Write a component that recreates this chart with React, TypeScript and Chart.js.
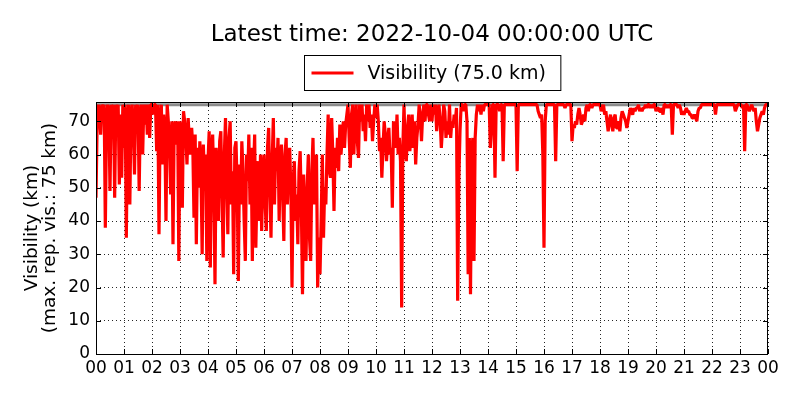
import { useEffect, useRef } from 'react';
import { Chart, registerables } from 'chart.js';

Chart.register(...registerables);

const titleText = 'Latest time: 2022-10-04 00:00:00 UTC';
const legendText = 'Visibility (75.0 km)';
const yTitle = ['Visibility (km)', '(max. rep. vis.: 75 km)'];
const hourLabels = [
  '00', '01', '02', '03', '04', '05', '06', '07', '08', '09', '10', '11',
  '12', '13', '14', '15', '16', '17', '18', '19', '20', '21', '22', '23', '00',
];
const yTicks = [0, 10, 20, 30, 40, 50, 60, 70];
const maxRepVis = 75;
const stepHours = 2.5 / 60; // one reading every 2.5 minutes

// visibility (km), 24 readings per hour
const vis00to06 = [
  47, 70, 75, 72, 66, 75, 74, 75, 38, 70, 75, 73, 49, 75, 72, 75, 47, 75, 70, 75, 51, 72, 53, 75, // 00
  62, 75, 35, 70, 75, 45, 72, 75, 68, 54, 75, 70, 75, 49, 72, 75, 60, 75, 69, 75, 66, 75, 65, 75, // 01
  75, 72, 75, 75, 61, 75, 36, 70, 75, 57, 72, 66, 40, 75, 70, 64, 48, 70, 33, 68, 70, 63, 70, 28, // 02
  70, 66, 44, 73, 70, 65, 57, 71, 64, 60, 68, 62, 41, 66, 33, 62, 50, 64, 55, 30, 63, 53, 60, 28, // 03
  58, 67, 26, 60, 66, 50, 21, 62, 55, 40, 64, 67, 48, 29, 60, 71, 52, 36, 65, 70, 45, 55, 24, 62, // 04
  64, 50, 22, 57, 45, 64, 55, 40, 28, 60, 52, 66, 45, 62, 28, 55, 66, 32, 50, 58, 40, 60, 37, 55, // 05
];
const vis06to12 = [
  60, 45, 37, 62, 68, 50, 35, 58, 71, 45, 62, 55, 65, 40, 58, 63, 48, 34, 60, 65, 45, 55, 62, 50, // 06
  20, 52, 58, 40, 48, 33, 55, 61, 45, 18, 54, 40, 28, 50, 60, 35, 28, 55, 65, 45, 50, 60, 20, 35, // 07
  24, 40, 60, 35, 50, 45, 60, 72, 55, 53, 71, 60, 43, 62, 56, 65, 55, 69, 60, 65, 70, 62, 69, 72, // 08
  75, 65, 56, 72, 75, 60, 70, 75, 64, 59, 75, 70, 75, 67, 72, 64, 75, 70, 75, 68, 72, 64, 70, 75, // 09
  71, 75, 70, 61, 65, 53, 62, 70, 66, 58, 64, 68, 60, 62, 44, 70, 66, 62, 72, 60, 65, 58, 14, 62, // 10
  75, 62, 58, 68, 72, 61, 66, 72, 62, 70, 57, 65, 69, 75, 71, 64, 72, 75, 70, 75, 75, 72, 70, 75, // 11
];
const vis12to18 = [
  70, 75, 72, 75, 67, 72, 75, 70, 62, 68, 75, 73, 65, 70, 66, 75, 65, 70, 68, 72, 70, 74, 16, 52, // 12
  67, 75, 75, 73, 75, 75, 70, 24, 65, 18, 60, 65, 28, 65, 72, 75, 73, 75, 72, 75, 73, 75, 75, 75, // 13
  75, 75, 62, 68, 75, 75, 53, 75, 75, 75, 73, 75, 75, 58, 75, 75, 75, 75, 75, 75, 75, 75, 75, 75, // 14
  75, 55, 75, 75, 75, 75, 75, 75, 75, 75, 75, 75, 75, 75, 75, 75, 75, 75, 75, 73, 72, 71, 72, 60, // 15
  32, 70, 75, 75, 75, 75, 75, 75, 75, 75, 58, 75, 75, 75, 75, 75, 75, 75, 74, 75, 75, 75, 75, 75, // 16
  64, 69, 68, 70, 69, 72, 74, 72, 69, 70, 72, 70, 74, 75, 73, 75, 75, 74, 75, 75, 75, 75, 75, 75, // 17
];
const vis18to24 = [
  75, 73, 74, 75, 72, 73, 70, 67, 70, 72, 69, 67, 71, 72, 68, 68, 70, 67, 71, 73, 72, 71, 70, 68, // 18
  70, 72, 74, 73, 72, 74, 73, 74, 74, 75, 73, 74, 73, 74, 74, 75, 74, 75, 75, 74, 75, 74, 75, 75, // 19
  73, 74, 74, 73, 73, 74, 72, 75, 75, 74, 75, 74, 75, 75, 66, 75, 75, 75, 75, 74, 75, 74, 72, 73, // 20
  72, 73, 74, 73, 73, 72, 72, 71, 71, 72, 71, 70, 73, 74, 74, 75, 75, 75, 75, 75, 75, 75, 75, 75, // 21
  75, 75, 75, 72, 75, 75, 75, 75, 75, 75, 75, 75, 75, 75, 75, 75, 75, 75, 75, 75, 73, 74, 75, 75, // 22
  75, 75, 74, 75, 61, 75, 75, 74, 73, 74, 75, 74, 73, 74, 70, 67, 69, 71, 72, 73, 72, 74, 75, 75, // 23
  75,
];

const visibility = [...vis00to06, ...vis06to12, ...vis12to18, ...vis18to24];

const FONT = "'DejaVu Sans', sans-serif";

// box, inward ticks on all four sides, title and legend (matplotlib look)
const decorPlugin = {
  id: 'decor',
  afterDatasetsDraw(chart: Chart) {
    const { ctx, chartArea } = chart;
    const { left, right, top, bottom } = chartArea;
    const xs = chart.scales.x;
    const ys = chart.scales.y;
    ctx.save();
    ctx.setLineDash([]);
    ctx.strokeStyle = '#000';
    ctx.lineWidth = 1;
    ctx.beginPath();
    xs.ticks.forEach((t) => {
      const px = Math.round(xs.getPixelForValue(t.value)) + 0.5;
      ctx.moveTo(px, bottom);
      ctx.lineTo(px, bottom - 5);
      ctx.moveTo(px, top);
      ctx.lineTo(px, top + 5);
    });
    ys.ticks.forEach((t) => {
      const py = Math.round(ys.getPixelForValue(t.value)) + 0.5;
      ctx.moveTo(left, py);
      ctx.lineTo(left + 5, py);
      ctx.moveTo(right, py);
      ctx.lineTo(right - 5, py);
    });
    ctx.stroke();
    ctx.strokeRect(left + 0.5, top + 0.5, right - left - 1, bottom - top);
    ctx.restore();
  },
  afterDraw(chart: Chart) {
    const { ctx, chartArea } = chart;
    const cx = (chartArea.left + chartArea.right) / 2;
    ctx.save();
    ctx.fillStyle = '#000';
    ctx.textAlign = 'center';
    ctx.textBaseline = 'middle';
    ctx.font = `23px ${FONT}`;
    ctx.fillText(titleText, cx, 35);

    // legend box
    ctx.font = `19px ${FONT}`;
    const textW = ctx.measureText(legendText).width;
    const boxW = 14 + 42 + 14 + textW + 8;
    const boxX = Math.round(cx - boxW / 2) + 0.5;
    const boxY = 55.5;
    const boxH = 35;
    ctx.fillStyle = '#fff';
    ctx.fillRect(boxX, boxY, boxW, boxH);
    ctx.strokeStyle = '#000';
    ctx.lineWidth = 1;
    ctx.strokeRect(boxX, boxY, boxW, boxH);
    ctx.strokeStyle = '#ff0000';
    ctx.lineWidth = 3;
    ctx.beginPath();
    ctx.moveTo(boxX + 7, boxY + boxH / 2);
    ctx.lineTo(boxX + 49, boxY + boxH / 2);
    ctx.stroke();
    ctx.fillStyle = '#000';
    ctx.textAlign = 'left';
    ctx.fillText(legendText, boxX + 63, boxY + boxH / 2 + 1);
    ctx.restore();
  },
};

const VisibilityChart = () => {
  const canvasRef = useRef<HTMLCanvasElement>(null);

  useEffect(() => {
    document.body.style.margin = '0';
    const ctx = canvasRef.current?.getContext('2d');
    if (!ctx) return;

    const chart = new Chart(ctx, {
      type: 'line',
      data: {
        datasets: [
          {
            label: legendText,
            data: visibility.map((v, i) => ({ x: i * stepHours, y: v })),
            borderColor: '#ff0000',
            borderWidth: 3.2,
            borderJoinStyle: 'bevel',
            pointRadius: 0,
            tension: 0,
            order: 0,
          },
          {
            label: 'max rep vis',
            data: [
              { x: 0, y: maxRepVis },
              { x: 24, y: maxRepVis },
            ],
            borderColor: '#8c8c8c',
            borderWidth: 3,
            pointRadius: 0,
            order: 1,
          },
        ],
      },
      options: {
        animation: false,
        responsive: true,
        maintainAspectRatio: false,
        layout: { padding: { top: 102, right: 32, left: 0, bottom: 0 } },
        plugins: {
          legend: { display: false },
          title: { display: false },
          tooltip: { enabled: false },
        },
        scales: {
          x: {
            type: 'linear',
            min: 0,
            max: 24,
            afterBuildTicks: (scale) => {
              scale.ticks = hourLabels.map((_, i) => ({ value: i }));
            },
            afterFit: (scale) => {
              scale.height = 46;
            },
            ticks: {
              autoSkip: false,
              maxRotation: 0,
              color: '#000',
              padding: 4,
              font: { family: FONT, size: 17 },
              callback: (_v, i) => hourLabels[i],
            },
            grid: { color: 'rgba(0,0,0,0.85)', lineWidth: 1, drawTicks: false },
            border: { display: false, dash: [1, 3] },
          },
          y: {
            min: 0,
            max: 75.8,
            afterBuildTicks: (scale) => {
              scale.ticks = yTicks.map((value) => ({ value }));
            },
            afterFit: (scale) => {
              scale.width = 96;
            },
            ticks: {
              color: '#000',
              padding: 6,
              font: { family: FONT, size: 17 },
              callback: (v) => String(v),
            },
            grid: { color: 'rgba(0,0,0,0.85)', lineWidth: 1, drawTicks: false },
            border: { display: false, dash: [1, 3] },
            title: {
              display: true,
              text: yTitle,
              color: '#000',
              font: { family: FONT, size: 18.5, lineHeight: '18px' },
              padding: { top: 23, bottom: 0 },
            },
          },
        },
      },
      plugins: [decorPlugin],
    });

    return () => chart.destroy();
  }, []);

  return (
    <div style={{ position: 'relative', width: 800, height: 400, background: '#fff' }}>
      <canvas ref={canvasRef} />
    </div>
  );
};

export default function App() {
  return <VisibilityChart />;
}
